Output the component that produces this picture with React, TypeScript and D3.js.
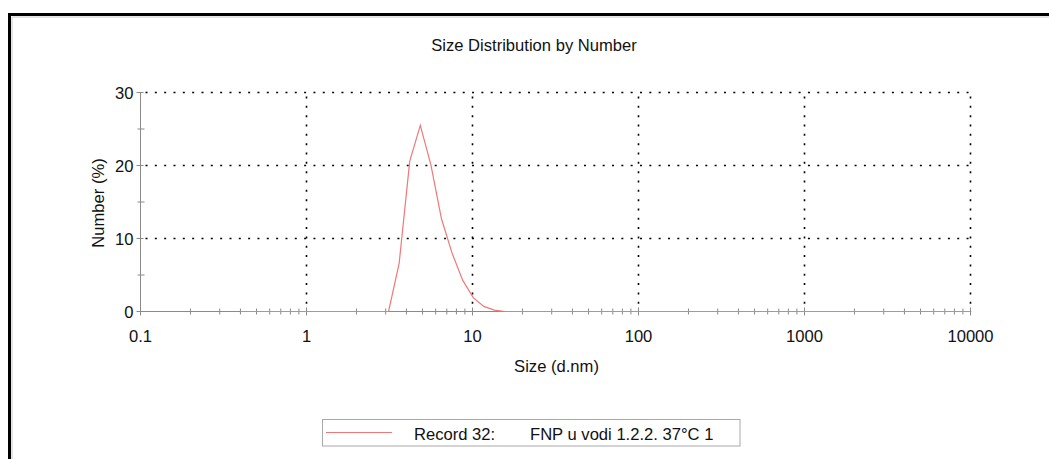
import React from 'react';
import * as d3 from 'd3';

// Zetasizer size classes (d.nm) and the number distribution
const sizes = [
  0.4, 0.4632, 0.5365, 0.6213, 0.7195, 0.8332, 0.9649, 1.117, 1.294, 1.499,
  1.736, 2.01, 2.328, 2.696, 3.122, 3.615, 4.187, 4.849, 5.615, 6.503,
  7.531, 8.721, 10.1, 11.7, 13.54, 15.69, 18.17, 21.04, 24.36, 28.21,
  32.67, 37.84, 43.82, 50.75, 58.77, 68.06, 78.82, 91.28, 105.7, 122.4,
  141.8, 164.2, 190.1, 220.2, 255, 295.3, 342, 396.1, 458.7, 531.2,
  615.1, 712.4, 825, 955.4, 1106, 1281, 1484, 1718, 1990, 2305,
  2669, 3091, 3580, 4145, 4801, 5560, 6439, 7456, 8635, 10000,
];
const numberPct = [
  0, 0, 0, 0, 0, 0, 0, 0, 0, 0,
  0, 0, 0, 0, 0, 6.6, 20.6, 25.5, 20.1, 12.7,
  8.0, 4.3, 1.9, 0.7, 0.2, 0, 0, 0, 0, 0,
  0, 0, 0, 0, 0, 0, 0, 0, 0, 0,
  0, 0, 0, 0, 0, 0, 0, 0, 0, 0,
  0, 0, 0, 0, 0, 0, 0, 0, 0, 0,
  0, 0, 0, 0, 0, 0, 0, 0, 0, 0,
];
const xMajor = [0.1, 1, 10, 100, 1000, 10000];
const xLabels = ['0.1', '1', '10', '100', '1000', '10000'];
const yMajor = [0, 10, 20, 30];
const yMinor = [5, 15, 25];

const title = 'Size Distribution by Number';
const xTitle = 'Size (d.nm)';
const yTitle = 'Number (%)';
const recordName = 'Record 32:';
const sampleName = 'FNP u vodi 1.2.2. 37°C 1';

const W = 1049;
const H = 459;
const font = 'Arial, "Liberation Sans", sans-serif';
const fs = 16.6;
const red = '#f07878';
const axisGray = '#8a8a8a';

const App = () => {
  const x = d3.scaleLog().domain([0.1, 10000]).range([140.5, 970.5]);
  const y = d3.scaleLinear().domain([0, 30]).range([311.5, 92.5]);

  // minor ticks 2..9 in every decade
  const xMinor: number[] = [];
  for (let d = 0.1; d < 10000; d *= 10) {
    for (let k = 2; k <= 9; k++) xMinor.push(+(d * k).toPrecision(3));
  }

  const line = d3
    .line<number>()
    .x((_, i) => x(sizes[i]))
    .y((v) => y(v));

  const dots = '2 7.33';

  return (
    <div style={{ position: 'absolute', left: 0, top: 0 }}>
      <svg width={W} height={H} style={{ display: 'block', fontFamily: font }}>
        <rect width={W} height={H} fill="#fff" />

        {/* frame */}
        <line x1={8} y1={14.5} x2={W} y2={14.5} stroke="#000" strokeWidth={3} />
        <line x1={9.5} y1={13} x2={9.5} y2={H} stroke="#000" strokeWidth={3} />
        <line x1={12} y1={17} x2={W} y2={17} stroke="#c8c8c8" strokeWidth={1} />
        <line x1={12} y1={17} x2={12} y2={H} stroke="#c8c8c8" strokeWidth={1} />

        <text x={534} y={50.5} fontSize={fs} textAnchor="middle" fill="#111">
          {title}
        </text>

        {/* grid */}
        {yMajor.filter((v) => v > 0).map((v) => (
          <line
            key={'gy' + v}
            x1={x(0.1) + 5}
            x2={x(10000)}
            y1={y(v)}
            y2={y(v)}
            stroke="#000"
            strokeWidth={1.6}
            strokeDasharray={dots}
          />
        ))}
        {xMajor.filter((v) => v > 0.1).map((v) => (
          <line
            key={'gx' + v}
            x1={x(v)}
            x2={x(v)}
            y1={y(30) + 4}
            y2={y(0)}
            stroke="#000"
            strokeWidth={1.6}
            strokeDasharray={dots}
          />
        ))}

        {/* axes */}
        <line x1={x(0.1)} x2={x(10000)} y1={y(0)} y2={y(0)} stroke={axisGray} strokeWidth={1} />
        <line x1={x(0.1)} x2={x(0.1)} y1={y(0)} y2={y(30)} stroke={axisGray} strokeWidth={1} />
        {xMinor.map((v) => (
          <line key={'xm' + v} x1={x(v)} x2={x(v)} y1={y(0) - 3} y2={y(0) + 3} stroke={axisGray} />
        ))}
        {xMajor.map((v) => (
          <line key={'xM' + v} x1={x(v)} x2={x(v)} y1={y(0) - 4} y2={y(0) + 4} stroke={axisGray} />
        ))}
        {yMajor.map((v) => (
          <line key={'yM' + v} x1={x(0.1) - 4} x2={x(0.1) + 3} y1={y(v)} y2={y(v)} stroke={axisGray} />
        ))}
        {yMinor.map((v) => (
          <line key={'ym' + v} x1={x(0.1) - 3} x2={x(0.1) + 4} y1={y(v)} y2={y(v)} stroke={axisGray} />
        ))}

        {xMajor.map((v, i) => (
          <text key={'xl' + v} x={x(v)} y={342} fontSize={fs} textAnchor="middle" fill="#111">
            {xLabels[i]}
          </text>
        ))}
        {yMajor.map((v) => (
          <text key={'yl' + v} x={133.5} y={y(v) + 6} fontSize={fs} textAnchor="end" fill="#111">
            {v}
          </text>
        ))}

        <text x={556.5} y={372} fontSize={fs} textAnchor="middle" fill="#111">
          {xTitle}
        </text>
        <text
          transform="translate(104,203) rotate(-90)"
          fontSize={fs}
          textAnchor="middle"
          fill="#111"
        >
          {yTitle}
        </text>

        {/* distribution */}
        <path d={line(numberPct) || ''} fill="none" stroke={red} strokeWidth={1.2} />

        {/* legend */}
        <rect x={322.5} y={419.5} width={417.5} height={26.5} fill="#fff" stroke="#a8a8a8" />
        <line x1={326} x2={392} y1={432.5} y2={432.5} stroke={red} strokeWidth={1.2} />
        <text x={414} y={439.5} fontSize={fs} fill="#111">
          {recordName}
        </text>
        <text x={530} y={439.5} fontSize={fs} fill="#111">
          {sampleName}
        </text>
      </svg>
    </div>
  );
};

export default App;
